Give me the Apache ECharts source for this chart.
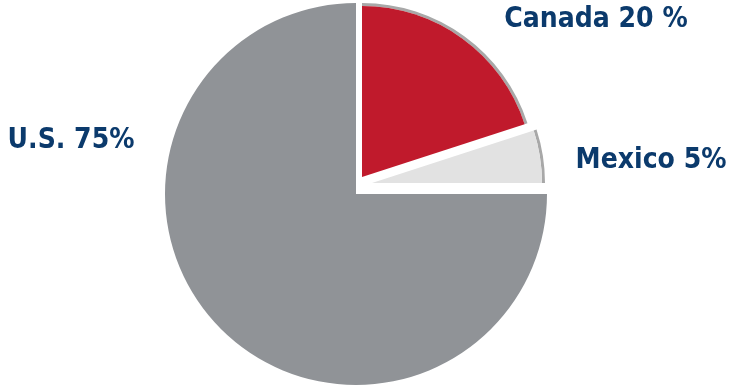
<!DOCTYPE html>
<html>
<head>
<meta charset="utf-8">
<script src="https://cdn.jsdelivr.net/npm/echarts@6/dist/echarts.min.js"></script>
<style>
  html, body { margin: 0; padding: 0; background: #fff; }
  #chart { width: 730px; height: 386px; }
</style>
</head>
<body>
<div id="chart"></div>
<script>
// data
var countries = ['Canada', 'Mexico', 'U.S.'];
var shares = [20, 5, 75];
var labelTexts = ['Canada 20 %', 'Mexico 5%', 'U.S. 75%'];

var colors = ['#c01a2c', '#e2e2e2', '#909397'];
var rimColor = '#a8a8a8';

// each slice is drawn with its own center / radius (exploded look)
var sliceGeo = [
  { center: [362, 177], r: 171 },
  { center: [372, 183], r: 170 },
  { center: [356, 194], r: 191 }
];
// label anchor points
var labelPos = [[596, 20], [651, 161], [71, 141]];

var myChart = echarts.init(document.getElementById('chart'));

function sliceSeries(k, rim) {
  var g = sliceGeo[k];
  return {
    type: 'pie',
    silent: true,
    animation: false,
    startAngle: 90,
    clockwise: true,
    center: g.center,
    radius: rim ? [g.r, g.r + 3] : [0, g.r],
    label: { show: false },
    labelLine: { show: false },
    data: countries.map(function (c, i) {
      return {
        name: c,
        value: shares[i],
        itemStyle: {
          color: i === k ? (rim ? rimColor : colors[i]) : 'rgba(0,0,0,0)',
          borderWidth: 0
        }
      };
    })
  };
}

var series = [
  sliceSeries(2, false),
  sliceSeries(0, true),
  sliceSeries(0, false),
  sliceSeries(1, true),
  sliceSeries(1, false)
];

// label carrier
series.push({
  type: 'pie',
  silent: true,
  animation: false,
  startAngle: 90,
  center: sliceGeo[2].center,
  radius: [0, sliceGeo[2].r],
  itemStyle: { color: 'rgba(0,0,0,0)' },
  label: {
    show: true,
    position: 'outside',
    formatter: function (p) { return labelTexts[p.dataIndex]; },
    color: '#0b3a6c',
    fontFamily: '"DejaVu Sans Condensed"',
    fontWeight: 'bold',
    fontSize: 28,
    overflow: 'none'
  },
  labelLine: { show: false },
  labelLayout: function (p) {
    var pos = labelPos[p.dataIndex];
    return { x: pos[0], y: pos[1], align: 'center', verticalAlign: 'middle' };
  },
  data: countries.map(function (c, i) { return { name: c, value: shares[i] }; })
});

var option = {
  backgroundColor: '#ffffff',
  series: series
};
myChart.setOption(option, true);
</script>
</body>
</html>
